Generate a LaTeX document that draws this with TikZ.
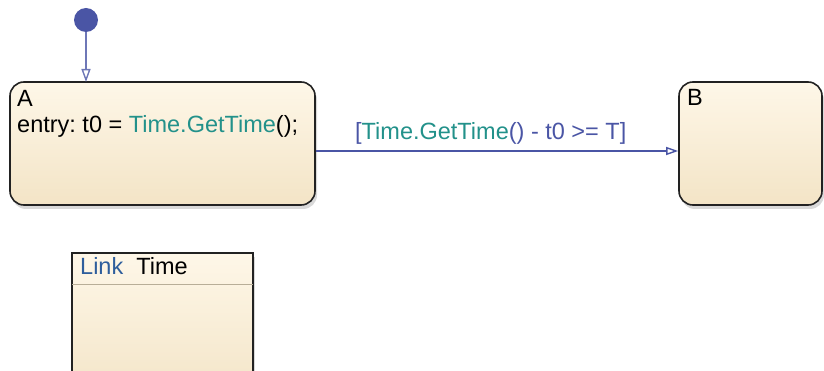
\documentclass[tikz,border=0pt]{standalone}
\usepackage{fontspec}
\setmainfont{Liberation Sans}
\frenchspacing
\usetikzlibrary{arrows.meta,shadows}
\definecolor{trans}{HTML}{4A55A5}
\definecolor{fun}{HTML}{22918A}
\definecolor{linkblue}{HTML}{2E5E9C}
\definecolor{topc}{HTML}{FEF7E8}
\definecolor{botc}{HTML}{F3E4C6}
\definecolor{edge}{HTML}{222222}
\definecolor{hdr}{HTML}{B8AE98}
\tikzset{
  x=1pt,y=-1pt,
  statebox/.style={draw=edge,line width=1.6pt,rounded corners=14pt,top color=topc,bottom color=botc,
    drop shadow={opacity=0.3,shadow xshift=2pt,shadow yshift=-4pt}},
  linkbox/.style={draw=edge,line width=1.6pt,top color=topc,bottom color=botc,
    drop shadow={opacity=0.3,shadow xshift=2pt,shadow yshift=-4pt}},
  txt/.style={anchor=base west,inner sep=0pt,font=\fontsize{23.5}{27}\selectfont},
  conn/.style={draw=trans,line width=1.4pt,-{Triangle[open,length=12pt,width=8pt]}},
}
\begin{document}
\begin{tikzpicture}
\useasboundingbox (0,0) rectangle (824,371);
\begin{scope}
\clip (0,0) rectangle (824,371);
% states
\node[statebox,minimum width=305pt,minimum height=123pt] (A) at (162.5,143.5) {};
\node[statebox,minimum width=143pt,minimum height=123pt] (B) at (750.5,143.5) {};
\node[linkbox,minimum width=181pt,minimum height=150pt] (L) at (162.5,328) {};
\end{scope}
% initial dot
\node[circle,fill=trans,minimum size=24pt,inner sep=0pt] (dot) at (86,20) {};
\coordinate (atop) at (86,82);
\draw[conn,draw=trans!80,-{Triangle[open,length=13pt,width=9pt]}] (dot) -- (atop);
% texts
\node[txt] (Alabel) at (17,107) {A};
\node[txt] (Aentry) at (17,133) {entry: t0 = \textcolor{fun}{Time.GetTime}();};
\node[txt] (Blabel) at (687,106) {B};
% transition
\coordinate (ty) at (0,151);
\draw[conn] (A.east |- ty) -- (B.west |- ty);
\node[txt,text=trans] (cond) at (355,140) {[\textcolor{fun}{Time.GetTime}() - t0 >= T]};
% link box header
\coordinate (hl) at (0,284);
\draw[hdr,line width=1pt] ([xshift=1pt]L.west |- hl) -- ([xshift=-1pt]L.east |- hl);
\node[txt] (link) at (80,275) {\textcolor{linkblue}{Link}\hspace{13pt}Time};
\end{tikzpicture}
\end{document}
